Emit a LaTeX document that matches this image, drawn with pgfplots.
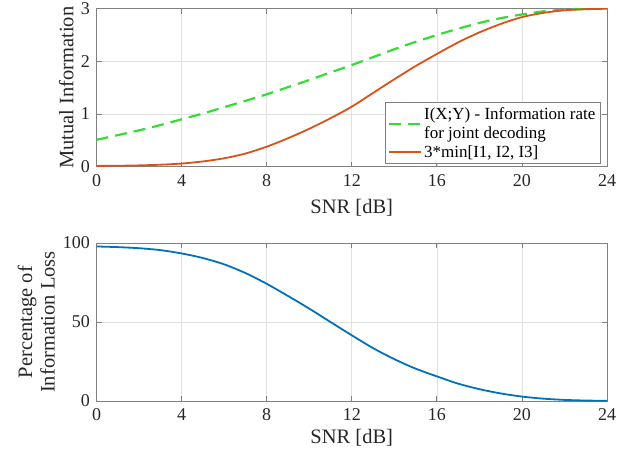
\documentclass[border=0pt]{standalone}
\usepackage{fontspec}
\setmainfont{Liberation Serif}
\usepackage{pgfplots}
\pgfplotsset{compat=1.18}
\definecolor{mgreen}{RGB}{51,221,51}
\definecolor{morange}{RGB}{217,83,25}
\definecolor{mblue}{RGB}{0,114,189}
\definecolor{axgray}{RGB}{128,128,128}

\pgfplotsset{
  mstyle/.style={
    scale only axis, width=510.5pt, height=158pt,
    xmin=0, xmax=24, xtick={0,4,...,24},
    grid=major, major grid style={black!12, line width=0.6pt},
    axis line style={axgray, line width=0.8pt},
    tick style={axgray, line width=0.8pt},
    tick align=inside, major tick length=5pt,
    ticklabel style={font=\fontsize{18}{20}\selectfont, text=black!85},
    xticklabel style={yshift=-4pt},
    yticklabel style={xshift=-3pt},
    /pgf/number format/assume math mode=true,
    label style={font=\fontsize{20.5}{22.5}\selectfont, text=black!85},
  }
}

\begin{document}
\begin{tikzpicture}
\path[use as bounding box] (0,0) rectangle (636pt,456pt);

% top: mutual information
\begin{axis}[mstyle,
    at={(96.5pt,289.3pt)}, anchor=south west,
    ymin=0, ymax=3, ytick={0,1,2,3},
    xlabel={SNR [dB]},
    ylabel={Mutual Information},
    xlabel style={at={(axis description cs:0.5,-0.261)}, anchor=center},
    ylabel style={at={(axis description cs:-0.059,0.5)}, anchor=center},
    legend style={at={(axis description cs:0.988,0.017)}, anchor=south east,
      font=\fontsize{17}{19}\selectfont, draw=axgray, line width=0.8pt,
      cells={anchor=west, align=left}, inner sep=3pt, row sep=1pt},
    legend cell align=left,
    legend image code/.code={\draw[#1] (0pt,0pt) -- (32pt,0pt);},
]
\addplot[mgreen, line width=2.2pt, dash pattern=on 12pt off 7pt, smooth] coordinates {
  (0,0.51) (1,0.60) (2,0.69) (3,0.79) (4,0.90) (5,1.01) (6,1.13) (7,1.25)
  (8,1.375) (9,1.51) (10,1.645) (11,1.79) (12,1.93) (13,2.08) (14,2.23)
  (15,2.37) (16,2.50) (17,2.62) (18,2.73) (19,2.82) (20,2.89) (21,2.95)
  (22,2.98) (23,2.995) (24,3.0)
};
\addlegendentry{I(X;Y) - Information rate\\for joint decoding}
\addplot[morange, line width=1.8pt, smooth] coordinates {
  (0,0.015) (1,0.018) (2,0.025) (3,0.038) (4,0.06) (5,0.10) (6,0.16) (7,0.25)
  (8,0.38) (9,0.54) (10,0.72) (11,0.92) (12,1.14) (13,1.40) (14,1.66)
  (15,1.91) (16,2.14) (17,2.36) (18,2.55) (19,2.71) (20,2.84) (21,2.92)
  (22,2.97) (23,2.99) (24,3.0)
};
\addlegendentry{3*min[I1, I2, I3]}
\end{axis}

% bottom: percentage of information loss
\begin{axis}[mstyle,
    at={(96.5pt,55pt)}, anchor=south west,
    ymin=0, ymax=100, ytick={0,50,100},
    xlabel={SNR [dB]},
    ylabel={Percentage of\\Information Loss},
    xlabel style={at={(axis description cs:0.5,-0.233)}, anchor=center},
    ylabel style={at={(axis description cs:-0.118,0.5)}, anchor=center, align=center},
]
\addplot[mblue, line width=1.8pt, smooth] coordinates {
  (0,97.8) (1,97.4) (2,96.7) (3,95.5) (4,93.4) (5,90.5) (6,86.5) (7,81)
  (8,74.2) (9,66.5) (10,58.5) (11,50) (12,41.6) (13,33.5) (14,26.5)
  (15,20.5) (16,15.6) (17,11) (18,7.5) (19,4.8) (20,2.8) (21,1.5)
  (22,0.7) (23,0.3) (24,0.1)
};
\end{axis}
\end{tikzpicture}
\end{document}
